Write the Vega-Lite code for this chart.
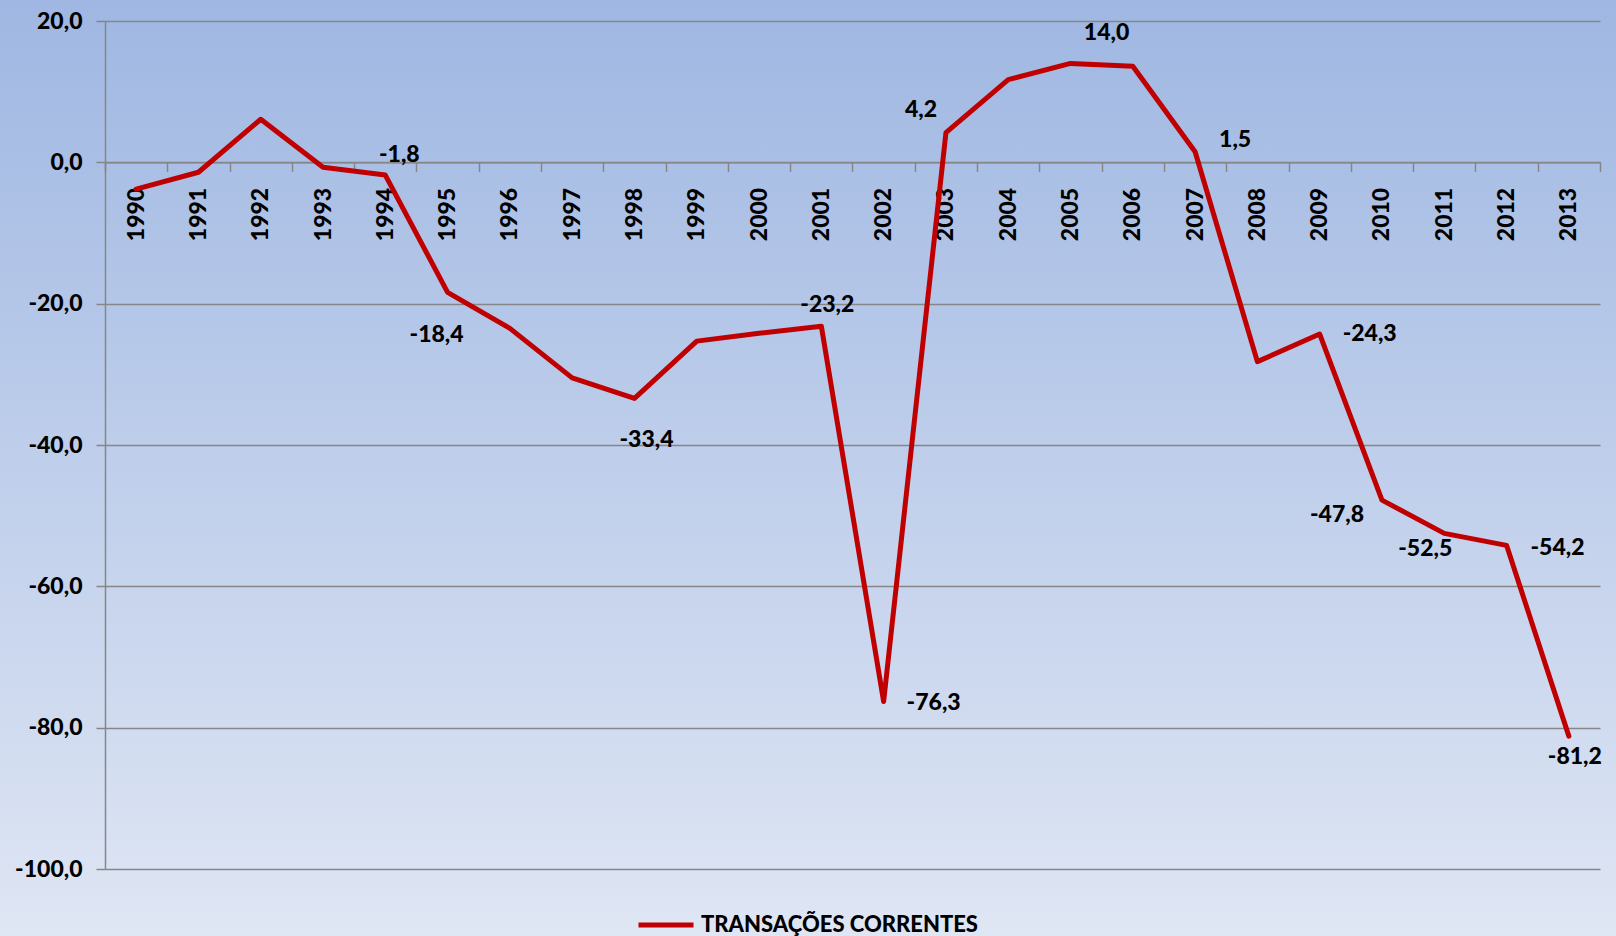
{
  "$schema": "https://vega.github.io/schema/vega-lite/v6.json",
  "width": 1616,
  "height": 936,
  "autosize": {"type": "none"},
  "padding": 0,
  "background": "#c0cfeb",
  "view": {
    "fill": {"gradient": "linear", "x1": 0, "y1": 0, "x2": 0, "y2": 1,
      "stops": [{"offset": 0, "color": "#9fb7e2"}, {"offset": 1, "color": "#dfe6f4"}]},
    "stroke": null
  },
  "config": {
    "locale": {"number": {"decimal": ",", "thousands": ".", "grouping": [3], "currency": ["", ""], "minus": "-"}},
    "font": "Lato",
    "text": {"font": "Lato"}
  },
  "data": {
    "values": [
      {"year": "1990", "value": -3.8, "serie": "TRANSAÇÕES CORRENTES"},
      {"year": "1991", "value": -1.4, "serie": "TRANSAÇÕES CORRENTES"},
      {"year": "1992", "value": 6.1, "serie": "TRANSAÇÕES CORRENTES"},
      {"year": "1993", "value": -0.7, "serie": "TRANSAÇÕES CORRENTES"},
      {"year": "1994", "value": -1.8, "serie": "TRANSAÇÕES CORRENTES"},
      {"year": "1995", "value": -18.4, "serie": "TRANSAÇÕES CORRENTES"},
      {"year": "1996", "value": -23.5, "serie": "TRANSAÇÕES CORRENTES"},
      {"year": "1997", "value": -30.5, "serie": "TRANSAÇÕES CORRENTES"},
      {"year": "1998", "value": -33.4, "serie": "TRANSAÇÕES CORRENTES"},
      {"year": "1999", "value": -25.3, "serie": "TRANSAÇÕES CORRENTES"},
      {"year": "2000", "value": -24.2, "serie": "TRANSAÇÕES CORRENTES"},
      {"year": "2001", "value": -23.2, "serie": "TRANSAÇÕES CORRENTES"},
      {"year": "2002", "value": -76.3, "serie": "TRANSAÇÕES CORRENTES"},
      {"year": "2003", "value": 4.2, "serie": "TRANSAÇÕES CORRENTES"},
      {"year": "2004", "value": 11.7, "serie": "TRANSAÇÕES CORRENTES"},
      {"year": "2005", "value": 14.0, "serie": "TRANSAÇÕES CORRENTES"},
      {"year": "2006", "value": 13.6, "serie": "TRANSAÇÕES CORRENTES"},
      {"year": "2007", "value": 1.5, "serie": "TRANSAÇÕES CORRENTES"},
      {"year": "2008", "value": -28.2, "serie": "TRANSAÇÕES CORRENTES"},
      {"year": "2009", "value": -24.3, "serie": "TRANSAÇÕES CORRENTES"},
      {"year": "2010", "value": -47.8, "serie": "TRANSAÇÕES CORRENTES"},
      {"year": "2011", "value": -52.5, "serie": "TRANSAÇÕES CORRENTES"},
      {"year": "2012", "value": -54.2, "serie": "TRANSAÇÕES CORRENTES"},
      {"year": "2013", "value": -81.2, "serie": "TRANSAÇÕES CORRENTES"}
    ]
  },
  "encoding": {
    "x": {
      "field": "year", "type": "ordinal", "bandPosition": 0.5,
      "scale": {"type": "band", "range": [105, 1600], "paddingInner": 0, "paddingOuter": 0},
      "axis": {
        "orient": "bottom", "offset": -773.67, "title": null, "labelAngle": -90,
        "tickBand": "extent", "tickSize": 9, "tickColor": "#868686", "tickWidth": 1.5,
        "domainColor": "#868686", "domainWidth": 1.5, "grid": false,
        "labelFont": "Lato", "labelFontSize": 23, "labelFontWeight": 900, "labelColor": "black", "labelPadding": 16
      }
    },
    "y": {
      "field": "value", "type": "quantitative",
      "scale": {"domain": [-100, 20], "range": [869, 21], "nice": false, "zero": false},
      "axis": {
        "orient": "left", "offset": -105, "title": null, "values": [-100, -80, -60, -40, -20, 0, 20], "format": ".1f",
        "grid": true, "gridColor": "#868686", "gridWidth": 1.5,
        "tickSize": 9, "tickColor": "#868686", "tickWidth": 1.5,
        "domainColor": "#868686", "domainWidth": 1.5,
        "labelFont": "Lato", "labelFontSize": 23, "labelFontWeight": 900, "labelColor": "black", "labelPadding": 14
      }
    }
  },
  "layer": [
    {
      "mark": {"type": "line", "strokeWidth": 5, "strokeJoin": "round", "strokeCap": "round"},
      "encoding": {
        "color": {
          "field": "serie", "type": "nominal", "scale": {"range": ["#c00000"]},
          "legend": {
            "orient": "none", "legendX": 636, "legendY": 895, "title": null, "padding": 0,
            "symbolType": "stroke", "symbolStrokeWidth": 5, "symbolSize": 3025,
            "labelFont": "Lato", "labelFontSize": 22, "labelFontWeight": 900, "labelColor": "black", "labelOffset": 5, "labelLimit": 500
          }
        }
      }
    },
    {"transform": [{"filter": {"field": "year", "equal": "1994"}}], "mark": {"type": "text", "dx": 14, "dy": -20, "fontSize": 23, "fontWeight": 900, "color": "black"}, "encoding": {"text": {"field": "value", "type": "quantitative", "format": ".1f"}}},
    {"transform": [{"filter": {"field": "year", "equal": "1995"}}], "mark": {"type": "text", "dx": -11, "dy": 43, "fontSize": 23, "fontWeight": 900, "color": "black"}, "encoding": {"text": {"field": "value", "type": "quantitative", "format": ".1f"}}},
    {"transform": [{"filter": {"field": "year", "equal": "1998"}}], "mark": {"type": "text", "dx": 12, "dy": 42, "fontSize": 23, "fontWeight": 900, "color": "black"}, "encoding": {"text": {"field": "value", "type": "quantitative", "format": ".1f"}}},
    {"transform": [{"filter": {"field": "year", "equal": "2001"}}], "mark": {"type": "text", "dx": 6, "dy": -21, "fontSize": 23, "fontWeight": 900, "color": "black"}, "encoding": {"text": {"field": "value", "type": "quantitative", "format": ".1f"}}},
    {"transform": [{"filter": {"field": "year", "equal": "2002"}}], "mark": {"type": "text", "dx": 50, "dy": 1, "fontSize": 23, "fontWeight": 900, "color": "black"}, "encoding": {"text": {"field": "value", "type": "quantitative", "format": ".1f"}}},
    {"transform": [{"filter": {"field": "year", "equal": "2003"}}], "mark": {"type": "text", "dx": -25, "dy": -23, "fontSize": 23, "fontWeight": 900, "color": "black"}, "encoding": {"text": {"field": "value", "type": "quantitative", "format": ".1f"}}},
    {"transform": [{"filter": {"field": "year", "equal": "2005"}}], "mark": {"type": "text", "dx": 36, "dy": -30, "fontSize": 23, "fontWeight": 900, "color": "black"}, "encoding": {"text": {"field": "value", "type": "quantitative", "format": ".1f"}}},
    {"transform": [{"filter": {"field": "year", "equal": "2007"}}], "mark": {"type": "text", "dx": 40, "dy": -12, "fontSize": 23, "fontWeight": 900, "color": "black"}, "encoding": {"text": {"field": "value", "type": "quantitative", "format": ".1f"}}},
    {"transform": [{"filter": {"field": "year", "equal": "2009"}}], "mark": {"type": "text", "dx": 50, "dy": 0, "fontSize": 23, "fontWeight": 900, "color": "black"}, "encoding": {"text": {"field": "value", "type": "quantitative", "format": ".1f"}}},
    {"transform": [{"filter": {"field": "year", "equal": "2010"}}], "mark": {"type": "text", "dx": -45, "dy": 15, "fontSize": 23, "fontWeight": 900, "color": "black"}, "encoding": {"text": {"field": "value", "type": "quantitative", "format": ".1f"}}},
    {"transform": [{"filter": {"field": "year", "equal": "2011"}}], "mark": {"type": "text", "dx": -19, "dy": 16, "fontSize": 23, "fontWeight": 900, "color": "black"}, "encoding": {"text": {"field": "value", "type": "quantitative", "format": ".1f"}}},
    {"transform": [{"filter": {"field": "year", "equal": "2012"}}], "mark": {"type": "text", "dx": 51, "dy": 3, "fontSize": 23, "fontWeight": 900, "color": "black"}, "encoding": {"text": {"field": "value", "type": "quantitative", "format": ".1f"}}},
    {"transform": [{"filter": {"field": "year", "equal": "2013"}}], "mark": {"type": "text", "dx": 6, "dy": 21, "fontSize": 23, "fontWeight": 900, "color": "black"}, "encoding": {"text": {"field": "value", "type": "quantitative", "format": ".1f"}}}
  ]
}
